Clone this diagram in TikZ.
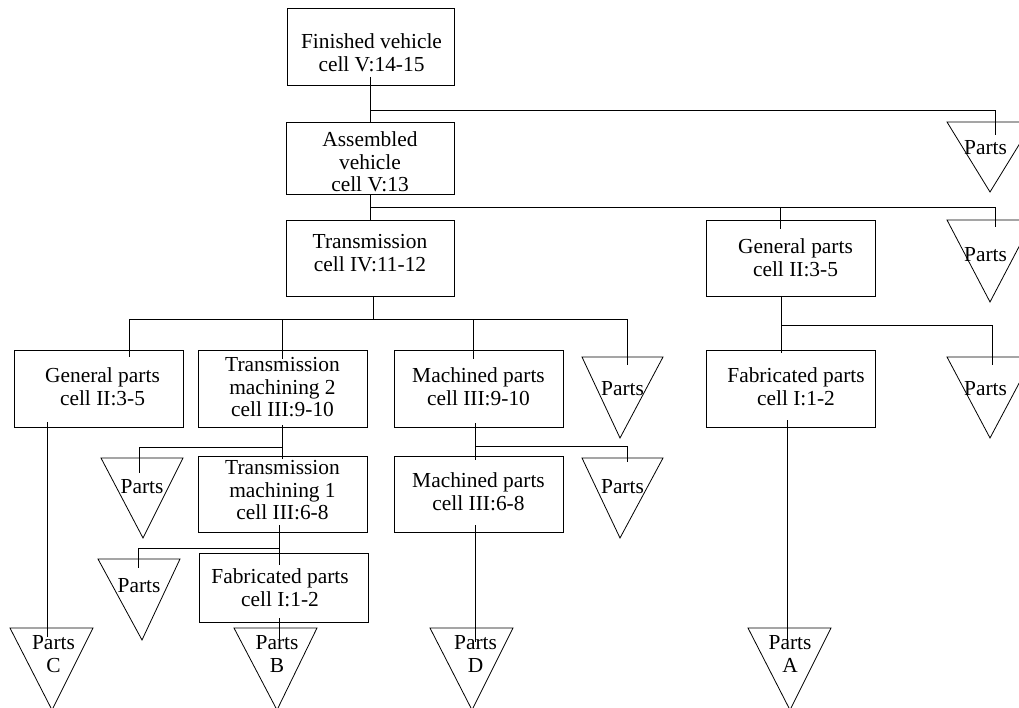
\documentclass[tikz,border=0pt]{standalone}
\usepackage{fontspec}
\setmainfont{Liberation Serif}
\newcommand{\ptri}[6]{% name, left, top, right, apexx, apexy
  \draw[line] (#2,#3) -- (#4,#3) -- (#5,#6) -- cycle;
  \coordinate (#1) at (#5,#3);}
\begin{document}
\begin{tikzpicture}[x=1pt,y=-1pt,
  line/.style={draw=black,line width=0.8pt},
  box/.style={draw=black,line width=0.8pt,rectangle,inner sep=0pt},
  txt/.style={inner sep=0pt,align=center,font=\fontsize{21.4}{22.5}\selectfont}]
\useasboundingbox (0,0) rectangle (1019,708);
\clip (0,0) rectangle (1019,708);

% ---- boxes ----
\node[box,minimum width=167pt,minimum height=77pt] (fin) at (370.5,46.5) {};
\node[box,minimum width=168pt,minimum height=72pt] (asm) at (370,158) {};
\node[box,minimum width=168pt,minimum height=76pt] (trn) at (370,258) {};
\node[box,minimum width=169pt,minimum height=77pt] (gpl) at (98.5,388.5) {};
\node[box,minimum width=169pt,minimum height=77pt] (tm2) at (282.5,388.5) {};
\node[box,minimum width=169pt,minimum height=77pt] (mp9) at (478.5,388.5) {};
\node[box,minimum width=169pt,minimum height=76pt] (tm1) at (282.5,494) {};
\node[box,minimum width=169pt,minimum height=76pt] (mp6) at (478.5,494) {};
\node[box,minimum width=169pt,minimum height=69pt] (fbl) at (283.5,587.5) {};
\node[box,minimum width=169pt,minimum height=76pt] (gpr) at (790.5,258) {};
\node[box,minimum width=169pt,minimum height=77pt] (fbr) at (790.5,388.5) {};

% ---- box texts ----
\node[txt,anchor=north] (fint) at (371.5,33.5) {Finished vehicle\\cell V:14-15};
\node[txt,anchor=north] (asmt) at (370,131.5) {Assembled\\vehicle\\cell V:13};
\node[txt,anchor=north] (trnt) at (370,234.5) {Transmission\\cell IV:11-12};
\node[txt,anchor=north] (gplt) at (102.5,367.5) {General parts\\cell II:3-5};
\node[txt,anchor=north] (tm2t) at (282.5,357.5) {Transmission\\machining 2\\cell III:9-10};
\node[txt,anchor=north] (mp9t) at (478.5,367.5) {Machined parts\\cell III:9-10};
\node[txt,anchor=north] (tm1t) at (282.5,460.5) {Transmission\\machining 1\\cell III:6-8};
\node[txt,anchor=north] (mp6t) at (478.5,472.5) {Machined parts\\cell III:6-8};
\node[txt,anchor=north] (fblt) at (280,568.5) {Fabricated parts\\cell I:1-2};
\node[txt,anchor=north] (gprt) at (795.5,238.5) {General parts\\cell II:3-5};
\node[txt,anchor=north] (fbrt) at (796,367.5) {Fabricated parts\\cell I:1-2};

% ---- triangles ----
\ptri{t1}{947}{122}{1033}{990}{192}
\ptri{t2}{947}{220}{1033}{990}{302}
\ptri{t3}{582}{357}{663}{620}{438}
\ptri{t4}{582}{458}{663}{620}{538}
\ptri{t5}{947}{357}{1033}{990}{438}
\ptri{t6}{101}{458}{183}{143}{538}
\ptri{t7}{98}{559}{180}{142}{640}
\ptri{tC}{10}{628}{93}{52}{710}
\ptri{tB}{234}{628}{317}{277}{710}
\ptri{tD}{430}{628}{513}{472}{710}
\ptri{tA}{748}{628}{831}{790}{710}

\node[txt,anchor=base] (t1t) at (985.5,155) {Parts};
\node[txt,anchor=base] (t2t) at (985.5,262) {Parts};
\node[txt,anchor=base] (t3t) at (622.5,395) {Parts};
\node[txt,anchor=base] (t4t) at (622.5,493) {Parts};
\node[txt,anchor=base] (t5t) at (985.5,395) {Parts};
\node[txt,anchor=base] (t6t) at (142,493) {Parts};
\node[txt,anchor=base] (t7t) at (139,592) {Parts};
\node[txt,anchor=north] (tCt) at (53.5,635.5) {Parts\\C};
\node[txt,anchor=north] (tBt) at (277,635.5) {Parts\\B};
\node[txt,anchor=north] (tDt) at (475.5,635.5) {Parts\\D};
\node[txt,anchor=north] (tAt) at (790,635.5) {Parts\\A};

% ---- connector points ----
\coordinate (finout) at (370,77);
\coordinate (j1) at (370,110);
\coordinate (t1in) at (995,135);
\coordinate (j2) at (370,207);
\coordinate (t2in) at (995,227);
\coordinate (gprin) at (780,229);
\coordinate (j3) at (373,319);
\coordinate (gplin) at (129,357);
\coordinate (tm2in) at (282,359);
\coordinate (mp9in) at (473,359);
\coordinate (t3in) at (627,365);
\coordinate (gplout) at (47,422);
\coordinate (tCin) at (47,637);
\coordinate (tm2out) at (282,425);
\coordinate (j4) at (282,447);
\coordinate (t6in) at (139,473);
\coordinate (tm1in) at (282,459);
\coordinate (mp9out) at (475,423);
\coordinate (j5) at (475,446);
\coordinate (mp6in) at (475,460);
\coordinate (t4in) at (627,462);
\coordinate (tm1out) at (279,525);
\coordinate (j6) at (279,548);
\coordinate (t7in) at (138,568);
\coordinate (fblin) at (279,565);
\coordinate (fblout) at (279,618);
\coordinate (tBin) at (279,647);
\coordinate (mp6out) at (475,525);
\coordinate (tDin) at (475,642);
\coordinate (gprout) at (781,296);
\coordinate (j7) at (781,325);
\coordinate (fbrin) at (781,353);
\coordinate (t5in) at (992,365);
\coordinate (fbrout) at (787,420);
\coordinate (tAin) at (787,642);

% ---- connectors ----
\draw[line] (finout) -- (asm.north);
\draw[line] (j1) -| (t1in);
\draw[line] (asm.south) -- (trn.north);
\draw[line] (j2) -| (t2in);
\draw[line] (j2 -| gprin) -- (gprin);
\draw[line] (trn.south -| j3) -- (j3);
\draw[line] (gplin |- j3) -- (t3in |- j3);
\draw[line] (gplin |- j3) -- (gplin);
\draw[line] (tm2in |- j3) -- (tm2in);
\draw[line] (mp9in |- j3) -- (mp9in);
\draw[line] (t3in |- j3) -- (t3in);
\draw[line] (gplout) -- (tCin);
\draw[line] (tm2out) -- (tm1in);
\draw[line] (j4) -| (t6in);
\draw[line] (mp9out) -- (mp6in);
\draw[line] (j5) -| (t4in);
\draw[line] (tm1out) -- (fblin);
\draw[line] (j6) -| (t7in);
\draw[line] (fblout) -- (tBin);
\draw[line] (mp6out) -- (tDin);
\draw[line] (gprout) -- (fbrin);
\draw[line] (j7) -| (t5in);
\draw[line] (fbrout) -- (tAin);
\end{tikzpicture}
\end{document}
